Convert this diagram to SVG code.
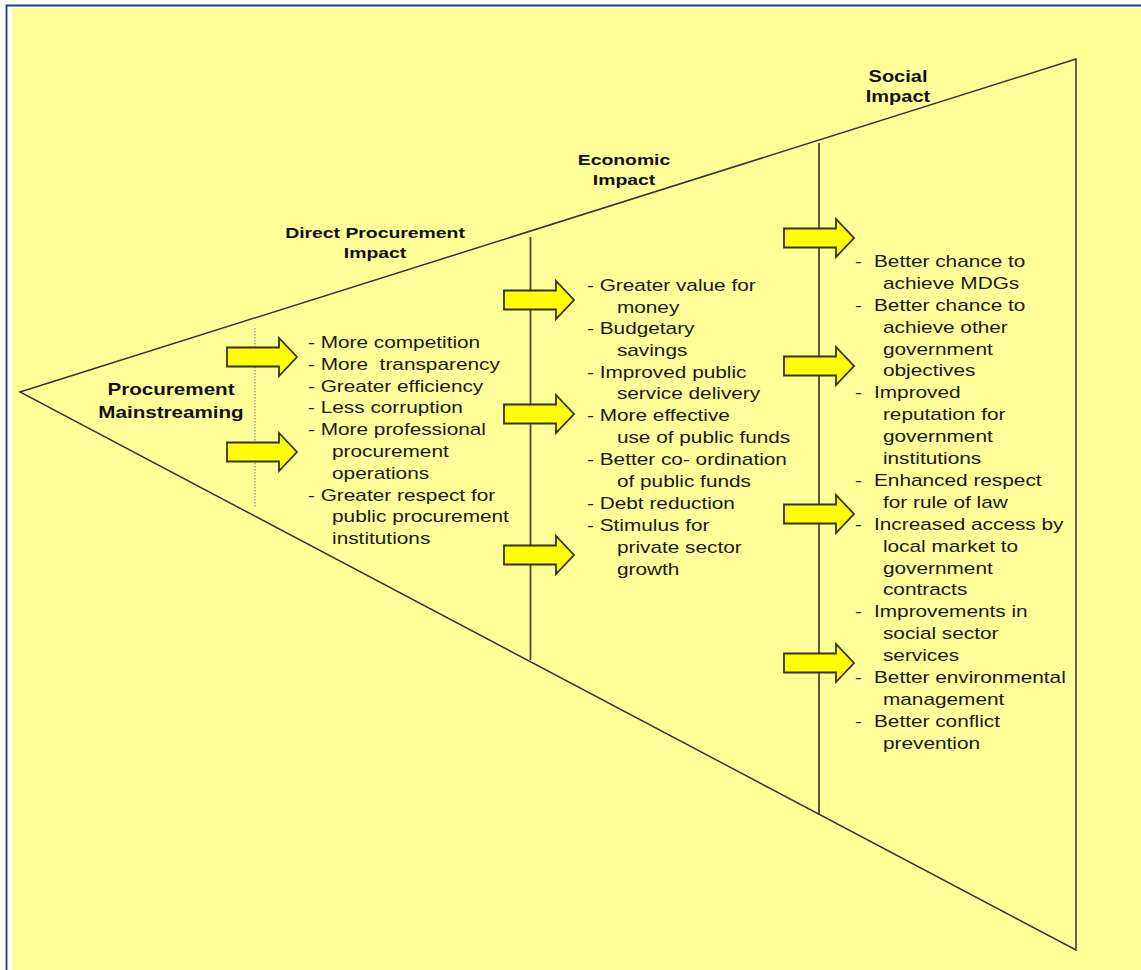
<svg xmlns="http://www.w3.org/2000/svg" xmlns:xlink="http://www.w3.org/1999/xlink" width="1141" height="970" viewBox="0 0 1141 970">
  <style>
    .frame { fill: none; stroke: #203c80; stroke-width: 1.8; }
    .edge { fill: none; stroke: #333333; stroke-width: 1.5; stroke-linejoin: miter; }
    .divider { stroke: #4a4638; stroke-width: 1.8; }
    .dotted { stroke: #a8a894; stroke-width: 1.6; stroke-dasharray: 1.5 1.5; }
    .arrow { fill: #ffff00; stroke: #333311; stroke-width: 1.8; stroke-linejoin: miter; }
    .head { font-family: "Liberation Sans", Arial, sans-serif; font-weight: bold; fill: #111111; text-anchor: middle; }
    .body { font-family: "Liberation Sans", Arial, sans-serif; font-size: 16px; fill: #1a1a1a; }
  </style>
  <defs>
    <!-- block arrow, tip at the origin -->
    <path id="blockArrow" class="arrow" d="M-70,-9.5 H-18 V-19 L0,0 L-18,19 V9.5 H-70 Z"/>
  </defs>

  <!-- page background and frame -->
  <rect x="0" y="0" width="1141" height="970" fill="#ffffff"/>
  <rect x="12" y="7.5" width="1129" height="962.5" fill="#ffff99"/>
  <path class="frame" d="M6.5,970 V5.5 H1141"/>

  <!-- funnel outline and section dividers -->
  <g id="connectors">
    <path id="funnel" class="edge" d="M1076,59 L20,392 L1076,950 Z"/>
    <line class="dotted" x1="255" y1="328" x2="255" y2="508"/>
    <line class="divider" x1="530.5" y1="237" x2="530.5" y2="660"/>
    <line class="divider" x1="819" y1="143" x2="819" y2="815"/>

    <use xlink:href="#blockArrow" x="297" y="357"/>
    <use xlink:href="#blockArrow" x="297" y="452"/>

    <use xlink:href="#blockArrow" x="574" y="300"/>
    <use xlink:href="#blockArrow" x="574" y="414"/>
    <use xlink:href="#blockArrow" x="574" y="555"/>

    <use xlink:href="#blockArrow" x="854" y="238"/>
    <use xlink:href="#blockArrow" x="854" y="366"/>
    <use xlink:href="#blockArrow" x="854" y="514"/>
    <use xlink:href="#blockArrow" x="854" y="663"/>
  </g>

  <!-- stage headings -->
  <g id="node-mainstreaming" transform="translate(171,0) scale(1.25,1)">
    <text class="head" x="0" y="395" font-size="16.5">Procurement</text>
    <text class="head" x="0" y="418" font-size="16.5">Mainstreaming</text>
  </g>
  <g id="node-direct-heading" transform="translate(375,0) scale(1.25,1)">
    <text class="head" x="0" y="238" font-size="15.5">Direct Procurement</text>
    <text class="head" x="0" y="258" font-size="15.5">Impact</text>
  </g>
  <g id="node-economic-heading" transform="translate(624,0) scale(1.25,1)">
    <text class="head" x="0" y="165" font-size="15.5">Economic</text>
    <text class="head" x="0" y="185" font-size="15.5">Impact</text>
  </g>
  <g id="node-social-heading" transform="translate(898,0) scale(1.25,1)">
    <text class="head" x="0" y="82" font-size="16">Social</text>
    <text class="head" x="0" y="102" font-size="16">Impact</text>
  </g>

  <!-- direct procurement impact list -->
  <g id="node-direct-list" transform="translate(308,0) scale(1.3,1)">
    <text class="body" x="0" y="348">- More competition</text>
    <text class="body" x="0" y="370" xml:space="preserve" style="white-space:pre">- More  transparency</text>
    <text class="body" x="0" y="392">- Greater efficiency</text>
    <text class="body" x="0" y="413">- Less corruption</text>
    <text class="body" x="0" y="435">- More professional</text>
    <text class="body" x="18.5" y="457">procurement</text>
    <text class="body" x="18.5" y="479">operations</text>
    <text class="body" x="0" y="501">- Greater respect for</text>
    <text class="body" x="18.5" y="522">public procurement</text>
    <text class="body" x="18.5" y="544">institutions</text>
  </g>

  <!-- economic impact list -->
  <g id="node-economic-list" transform="translate(587,0) scale(1.3,1)">
    <text class="body" x="0" y="291">- Greater value for</text>
    <text class="body" x="23" y="313">money</text>
    <text class="body" x="0" y="334">- Budgetary</text>
    <text class="body" x="23" y="356">savings</text>
    <text class="body" x="0" y="378">- Improved public</text>
    <text class="body" x="23" y="399">service delivery</text>
    <text class="body" x="0" y="421">- More effective</text>
    <text class="body" x="23" y="443">use of public funds</text>
    <text class="body" x="0" y="465">- Better co- ordination</text>
    <text class="body" x="23" y="487">of public funds</text>
    <text class="body" x="0" y="509">- Debt reduction</text>
    <text class="body" x="0" y="531">- Stimulus for</text>
    <text class="body" x="23" y="553">private sector</text>
    <text class="body" x="23" y="575">growth</text>
  </g>

  <!-- social impact list -->
  <g id="node-social-list" transform="translate(855,0) scale(1.3,1)">
    <text class="body" x="0" y="267">-</text>
    <text class="body" x="14.6" y="267">Better chance to</text>
    <text class="body" x="21.5" y="289">achieve MDGs</text>
    <text class="body" x="0" y="311">-</text>
    <text class="body" x="14.6" y="311">Better chance to</text>
    <text class="body" x="21.5" y="333">achieve other</text>
    <text class="body" x="21.5" y="355">government</text>
    <text class="body" x="21.5" y="376">objectives</text>
    <text class="body" x="0" y="398">-</text>
    <text class="body" x="14.6" y="398">Improved</text>
    <text class="body" x="21.5" y="420">reputation for</text>
    <text class="body" x="21.5" y="442">government</text>
    <text class="body" x="21.5" y="464">institutions</text>
    <text class="body" x="0" y="486">-</text>
    <text class="body" x="14.6" y="486">Enhanced respect</text>
    <text class="body" x="21.5" y="508">for rule of law</text>
    <text class="body" x="0" y="530">-</text>
    <text class="body" x="14.6" y="530">Increased access by</text>
    <text class="body" x="21.5" y="552">local market to</text>
    <text class="body" x="21.5" y="574">government</text>
    <text class="body" x="21.5" y="595">contracts</text>
    <text class="body" x="0" y="617">-</text>
    <text class="body" x="14.6" y="617">Improvements in</text>
    <text class="body" x="21.5" y="639">social sector</text>
    <text class="body" x="21.5" y="661">services</text>
    <text class="body" x="0" y="683">-</text>
    <text class="body" x="14.6" y="683">Better environmental</text>
    <text class="body" x="21.5" y="705">management</text>
    <text class="body" x="0" y="727">-</text>
    <text class="body" x="14.6" y="727">Better conflict</text>
    <text class="body" x="21.5" y="749">prevention</text>
  </g>
</svg>
